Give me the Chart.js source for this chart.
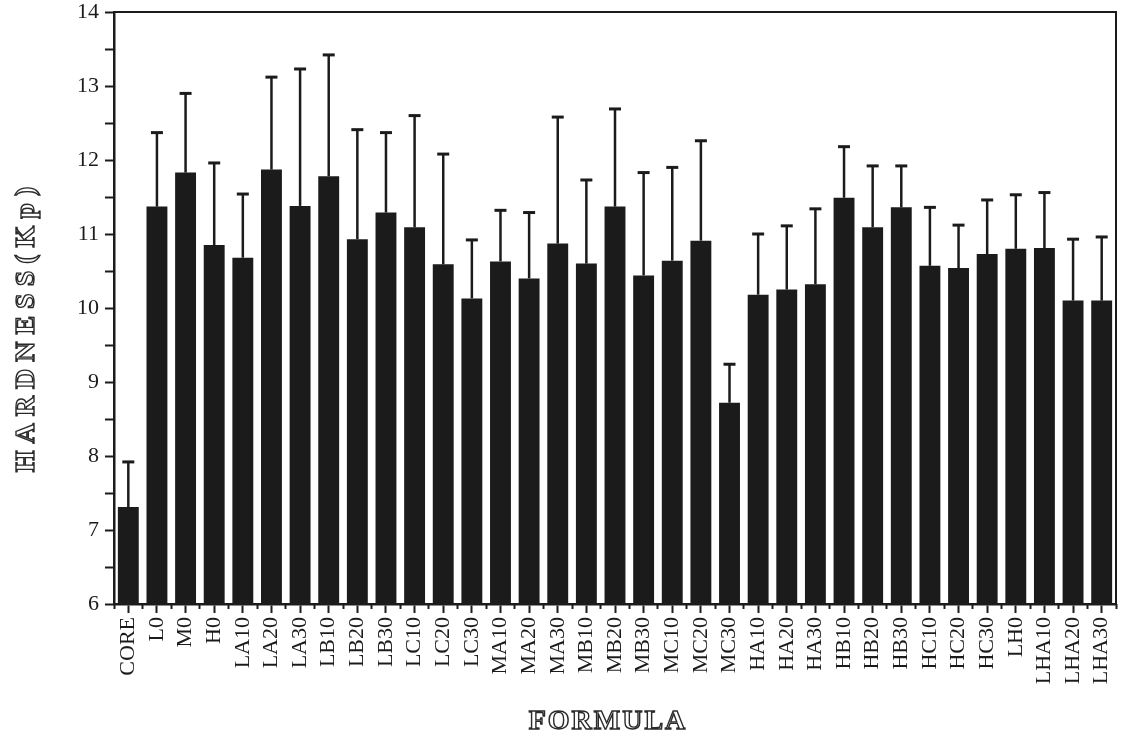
<!DOCTYPE html>
<html>
<head>
<meta charset="utf-8">
<script src="https://cdn.jsdelivr.net/npm/chart.js@4.4.0/dist/chart.umd.min.js"></script>
<style>
  html, body { margin: 0; padding: 0; background: #fff; }
  #wrap { width: 1124px; height: 747px; }
</style>
</head>
<body>
<div id="wrap"><canvas id="hardnessChart"></canvas></div>
<script>
// --- Data ---
const formulas = ['CORE', 'L0', 'M0', 'H0', 'LA10', 'LA20', 'LA30', 'LB10', 'LB20', 'LB30',
    'LC10', 'LC20', 'LC30', 'MA10', 'MA20', 'MA30', 'MB10', 'MB20', 'MB30', 'MC10',
    'MC20', 'MC30', 'HA10', 'HA20', 'HA30', 'HB10', 'HB20', 'HB30', 'HC10', 'HC20',
    'HC30', 'LH0', 'LHA10', 'LHA20', 'LHA30'];
const hardnessMean = [7.31, 11.37, 11.83, 10.85, 10.68, 11.87, 11.38, 11.78, 10.93, 11.29,
    11.09, 10.59, 10.13, 10.63, 10.40, 10.87, 10.60, 11.37, 10.44, 10.64,
    10.91, 8.72, 10.18, 10.25, 10.32, 11.49, 11.09, 11.36, 10.57, 10.54,
    10.73, 10.80, 10.81, 10.10, 10.10];
const hardnessSD = [0.61, 1.00, 1.07, 1.11, 0.86, 1.25, 1.85, 1.64, 1.48, 1.08,
    1.51, 1.49, 0.79, 0.69, 0.89, 1.71, 1.13, 1.32, 1.39, 1.26,
    1.35, 0.52, 0.82, 0.86, 1.02, 0.69, 0.83, 0.56, 0.79, 0.58,
    0.73, 0.73, 0.75, 0.83, 0.86];
const yTitle = 'HARDNESS(Kp)';
const xTitle = 'FORMULA';

const ink = '#1b1b1b';
const tickFont = { family: '"Liberation Serif", serif', size: 22 };

// error bars (mean + SD only, like the original)
const errorBars = {
    id: 'errorBars',
    afterDatasetsDraw(chart) {
        const ctx = chart.ctx;
        const y = chart.scales.y;
        const meta = chart.getDatasetMeta(0);
        ctx.save();
        ctx.strokeStyle = ink;
        meta.data.forEach((bar, i) => {
            const top = y.getPixelForValue(hardnessMean[i] + hardnessSD[i]);
            ctx.lineWidth = 2.5;
            ctx.beginPath();
            ctx.moveTo(bar.x, bar.y);
            ctx.lineTo(bar.x, top);
            ctx.stroke();
            ctx.lineWidth = 3;
            ctx.beginPath();
            ctx.moveTo(bar.x - 6, top);
            ctx.lineTo(bar.x + 6, top);
            ctx.stroke();
        });
        ctx.restore();
    }
};

// top and right edge of the box + outlined axis titles
const frameAndTitles = {
    id: 'frameAndTitles',
    afterDraw(chart) {
        const ctx = chart.ctx;
        const a = chart.chartArea;
        ctx.save();
        ctx.strokeStyle = ink;
        ctx.lineWidth = 2;
        ctx.beginPath();
        ctx.moveTo(a.left, a.top);
        ctx.lineTo(a.right, a.top);
        ctx.lineTo(a.right, a.bottom);
        ctx.stroke();

        ctx.font = 'bold 28px "Liberation Serif", serif';
        ctx.textAlign = 'center';
        ctx.textBaseline = 'middle';
        ctx.fillStyle = '#ffffff';
        ctx.strokeStyle = '#2a2a2a';
        ctx.lineWidth = 1.4;

        ctx.letterSpacing = '2px';
        ctx.fillText(xTitle, 608, 722);
        ctx.strokeText(xTitle, 608, 722);

        ctx.translate(27, 326);
        ctx.rotate(-Math.PI / 2);
        ctx.letterSpacing = '7px';
        ctx.fillText(yTitle, 0, 0);
        ctx.strokeText(yTitle, 0, 0);
        ctx.restore();
    }
};

new Chart(document.getElementById('hardnessChart'), {
    type: 'bar',
    data: {
        labels: formulas,
        datasets: [{
            label: 'Hardness',
            data: hardnessMean,
            backgroundColor: ink,
            borderWidth: 0,
            barPercentage: 0.73,
            categoryPercentage: 1
        }]
    },
    options: {
        responsive: true,
        maintainAspectRatio: false,
        animation: false,
        layout: { padding: { top: 12, right: 8, left: 0, bottom: 0 } },
        plugins: {
            legend: { display: false },
            tooltip: { enabled: false }
        },
        scales: {
            y: {
                min: 6,
                max: 14,
                ticks: {
                    stepSize: 0.5,
                    color: ink,
                    font: tickFont,
                    padding: 6,
                    callback: (v) => Number.isInteger(v) ? v : ''
                },
                grid: { drawOnChartArea: false, tickLength: 9, tickWidth: 2, tickColor: ink },
                border: { color: ink, width: 2.5 },
                afterFit: (s) => {
                    s.width = 114;
                    s.paddingTop = 0;
                    s.paddingBottom = 0;
                }
            },
            x: {
                weight: 1,
                ticks: {
                    color: ink,
                    font: tickFont,
                    minRotation: 90,
                    maxRotation: 90,
                    autoSkip: false,
                    padding: 4
                },
                grid: { offset: false, drawOnChartArea: false, tickLength: 9, tickWidth: 2, tickColor: ink },
                border: { color: ink, width: 2.5 },
                afterFit: (s) => {
                    s.height = 143;
                    s.paddingLeft = 0;
                    s.paddingRight = 0;
                }
            },
            x2: {
                type: 'category',
                labels: formulas,
                position: 'bottom',
                weight: 0,
                ticks: { display: false },
                grid: { offset: true, drawOnChartArea: false, tickLength: 5, tickWidth: 2, tickColor: ink },
                border: { display: false },
                afterFit: (s) => { s.height = 0; }
            }
        }
    },
    plugins: [errorBars, frameAndTitles]
});
</script>
</body>
</html>
